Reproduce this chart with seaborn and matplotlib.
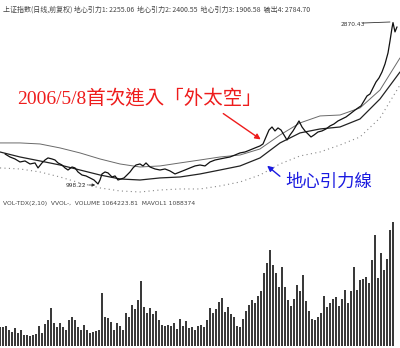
import matplotlib
matplotlib.use("Agg")
import matplotlib.pyplot as plt
import seaborn as sns
import pandas as pd

# ---------------- data ----------------
price_day = [5, 10, 15, 20, 25, 30, 35, 38, 42, 45, 48, 52, 55, 58, 62, 65, 68, 72, 75, 78,
             82, 86, 90, 94, 98, 100, 102, 105, 108, 112, 115, 118, 121, 124, 127, 130, 133, 136, 140, 143,
             146, 150, 155, 160, 165, 170, 175, 180, 185, 190, 195, 200, 205, 210, 215, 220, 225, 230, 235, 240,
             245, 250, 255, 260, 263, 266, 269, 272, 275, 278, 281, 284, 287, 290, 293, 296, 299, 302, 305, 308,
             311, 314, 318, 322, 326, 330, 334, 338, 342, 346, 350, 355, 358, 361, 364, 367, 370, 373, 376, 379,
             382, 385, 388, 390, 392, 393, 395, 397]
price = [1346, 1311, 1288, 1253, 1265, 1230, 1242, 1184, 1242, 1276, 1300, 1288, 1276, 1242, 1218, 1184, 1160, 1195, 1184, 1137,
         1102, 1091, 1068, 1044, 998, 1044, 1114, 1137, 1126, 1079, 1091, 1044, 1056, 1068, 1102, 1137, 1184, 1218, 1230, 1207,
         1242, 1195, 1172, 1160, 1172, 1149, 1114, 1137, 1160, 1184, 1207, 1218, 1207, 1253, 1276, 1288, 1300, 1311, 1334, 1358,
         1369, 1392, 1416, 1439, 1462, 1543, 1624, 1659, 1613, 1648, 1624, 1566, 1508, 1566, 1613, 1671, 1729, 1659, 1613, 1578,
         1543, 1566, 1601, 1613, 1636, 1671, 1694, 1729, 1752, 1775, 1810, 1855, 1880, 1903, 1961, 2019, 2042, 2112, 2181, 2228,
         2297, 2390, 2518, 2657, 2808, 2870, 2762, 2820]

band_day = [0, 20, 40, 60, 80, 100, 120, 140, 160, 180, 200, 220, 240, 260, 280, 300, 320, 340, 360, 380, 400]
upper_band = [1474, 1474, 1462, 1416, 1358, 1288, 1230, 1195, 1207, 1242, 1276, 1311, 1334, 1404, 1566, 1706, 1787, 1798, 1880, 2088, 2460]
gravity_line = [1369, 1311, 1265, 1218, 1160, 1102, 1056, 1044, 1068, 1079, 1114, 1160, 1207, 1300, 1474, 1590, 1636, 1659, 1752, 1984, 2297]
lower_band = [1184, 1172, 1137, 1079, 1010, 952, 917, 905, 928, 940, 940, 975, 1021, 1102, 1230, 1323, 1369, 1450, 1543, 1764, 2146]

vol_day = list(range(0, 396, 3))
volume = [19, 19, 20, 16, 14, 18, 13, 16, 11, 11, 10, 11, 12, 20, 13, 22, 26, 38, 23, 19,
          23, 19, 16, 26, 29, 26, 19, 16, 21, 16, 13, 14, 15, 16, 53, 29, 28, 24, 16, 23,
          20, 16, 33, 29, 41, 37, 46, 65, 39, 33, 38, 32, 35, 26, 21, 20, 21, 20, 23, 17,
          27, 20, 25, 18, 19, 16, 20, 21, 19, 26, 38, 33, 37, 44, 48, 34, 39, 32, 29, 20,
          19, 27, 35, 41, 46, 43, 50, 55, 73, 83, 96, 81, 73, 59, 79, 59, 46, 40, 47, 61,
          55, 71, 45, 35, 27, 26, 29, 33, 50, 39, 43, 47, 49, 40, 47, 56, 43, 55, 79, 56,
          66, 67, 69, 63, 86, 111, 68, 93, 76, 87, 116, 124]

header = "上证指数(日线,前复权) 地心引力1: 2255.06  地心引力2: 2400.55  地心引力3: 1906.58  输出4: 2784.70"
vol_header = "VOL-TDX(2,10)  VVOL-,  VOLUME 1064223.81  MAVOL1 1088374"
high_label = "2870.43"
low_label = "998.22"
red_note = "2006/5/8首次進入「外太空」"
blue_note = "地心引力線"

# ---------------- figure ----------------
sns.set_theme(style="white")
plt.rcParams["font.family"] = ["Noto Sans CJK TC", "DejaVu Sans"]

W, H = 400, 348
fig = plt.figure(figsize=(W / 100, H / 100), dpi=100)
fig.patch.set_facecolor("white")


def px(x, y):
    return (x / W, 1 - y / H)


ax = fig.add_axes([0, 1 - 195 / H, 1, 180 / H])
ax_v = fig.add_axes([0, 1 - 346 / H, 1, 126 / H])

sns.lineplot(x=band_day, y=upper_band, ax=ax, color="#6a6a6a", lw=0.7, sort=False)
sns.lineplot(x=band_day, y=gravity_line, ax=ax, color="#222222", lw=0.9, sort=False)
sns.lineplot(x=band_day, y=lower_band, ax=ax, color="#888888", lw=0.8, sort=False, linestyle=(0, (1, 3)))
sns.lineplot(x=price_day, y=price, ax=ax, color="#111111", lw=0.9, sort=False)
ax.set_xlim(0, 400)
ax.set_ylim(870, 2958)
ax.axis("off")

vdf = pd.DataFrame({"day": vol_day, "vol": volume})
sns.barplot(data=vdf, x="day", y="vol", ax=ax_v, native_scale=True, width=0.8,
            color="#3a3a3a", saturation=1, edgecolor="none")
ax_v.set_xlim(0, 400)
ax_v.set_ylim(0, 126)
ax_v.axis("off")

# texts
fig.text(*px(3, 10), header, fontsize=5.0, color="#444444", va="center", ha="left")
fig.text(*px(3, 203), vol_header, fontsize=4.3, color="#444444", va="center", ha="left",
         family=["DejaVu Sans"])
fig.text(*px(341, 24), high_label, fontsize=4.2, color="#333333", va="center", ha="left",
         family=["DejaVu Sans"])
fig.add_artist(plt.Line2D([363 / W, 390 / W], [1 - 23 / H, 1 - 22 / H], color="#333333", lw=0.6))
fig.text(*px(66, 186), low_label, fontsize=4.2, color="#333333", va="center", ha="left",
         family=["DejaVu Sans"])
ax.annotate("", xy=px(98, 185), xytext=px(86, 185), xycoords="figure fraction",
            textcoords="figure fraction",
            arrowprops=dict(arrowstyle="-|>", color="#333333", lw=0.6, mutation_scale=4))

fig.text(*px(17, 98), red_note, fontsize=14, color="#ee1c1c", va="center", ha="left",
         family=["Liberation Serif", "Noto Sans CJK TC"])
ax.annotate("", xy=px(263, 141), xytext=px(221, 112), xycoords="figure fraction",
            textcoords="figure fraction",
            arrowprops=dict(arrowstyle="-|>", color="#ee1c1c", lw=1.0, mutation_scale=8))

fig.text(*px(285, 182), blue_note, fontsize=12.5, color="#1a1ae0", va="center", ha="left",
         family=["Noto Sans CJK TC"])
ax.annotate("", xy=px(265, 164), xytext=px(282, 178), xycoords="figure fraction",
            textcoords="figure fraction",
            arrowprops=dict(arrowstyle="-|>", color="#1a1ae0", lw=1.0, mutation_scale=8))

fig.savefig("out.png", dpi=100, facecolor="white")
